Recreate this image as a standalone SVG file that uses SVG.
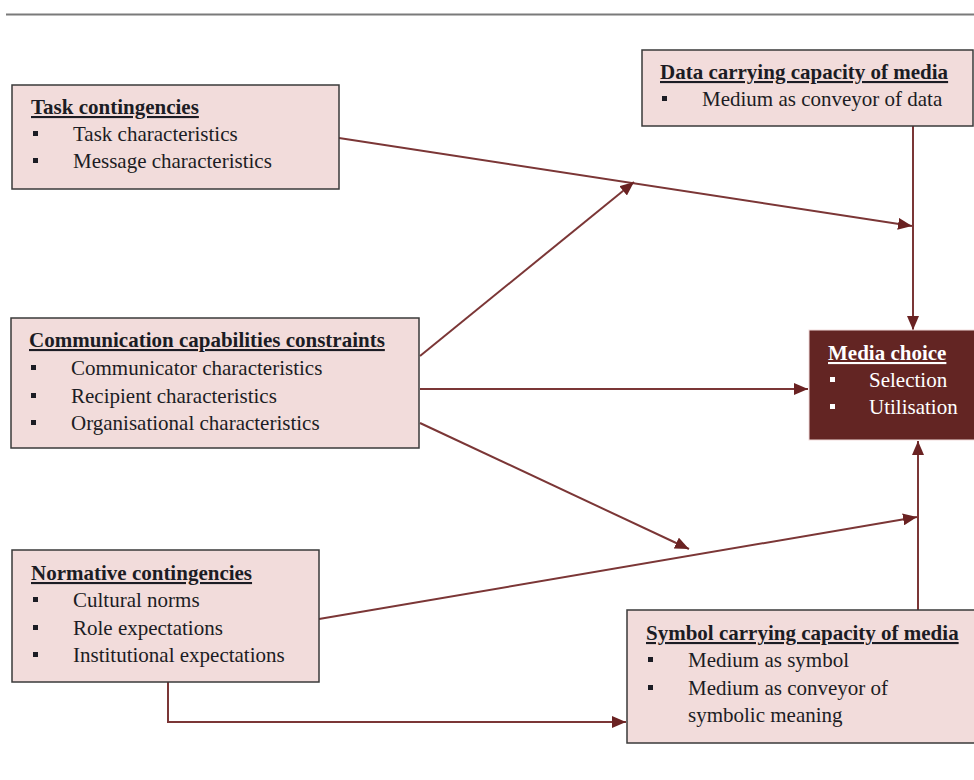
<svg xmlns="http://www.w3.org/2000/svg" width="974" height="780" viewBox="0 0 974 780">
  <defs>
    <marker id="arrow" viewBox="0 0 14 12" refX="14" refY="6" markerWidth="14" markerHeight="12" markerUnits="userSpaceOnUse" orient="auto">
      <path d="M0,0 L14,6 L0,12 Z" fill="#6a2222"/>
    </marker>
    <style>
      .box { fill: #f2dcdb; stroke: #3a3a3a; stroke-width: 1.5; }
      .dark { fill: #632523; stroke: #f2dcdb; stroke-width: 1; }
      .t { font-family: "Liberation Serif", "Times New Roman", serif; font-size: 21px; fill: #1c1c24; }
      .h { font-weight: bold; text-decoration: underline; }
      .w { fill: #ffffff; }
      .b { fill: #1c1c24; }
      .bw { fill: #ffffff; }
      .c { fill: none; stroke: #7b3636; stroke-width: 2; }
    </style>
  </defs>

  <!-- header rule -->
  <line x1="6" y1="14.5" x2="974" y2="14.5" stroke="#7a7a7a" stroke-width="2"/>

  <!-- connectors -->
  <g id="connectors">
    <line class="c" x1="339" y1="138" x2="912" y2="226" marker-end="url(#arrow)"/>
    <line class="c" x1="420" y1="356" x2="634" y2="182" marker-end="url(#arrow)"/>
    <line class="c" x1="913" y1="126" x2="913" y2="330" marker-end="url(#arrow)"/>
    <line class="c" x1="420" y1="389" x2="808" y2="389" marker-end="url(#arrow)"/>
    <line class="c" x1="420" y1="423" x2="689" y2="549" marker-end="url(#arrow)"/>
    <line class="c" x1="319" y1="619" x2="917" y2="517" marker-end="url(#arrow)"/>
    <line class="c" x1="918" y1="610" x2="918" y2="441" marker-end="url(#arrow)"/>
    <polyline class="c" points="168,682 168,722 626,722" marker-end="url(#arrow)"/>
  </g>

  <!-- Task contingencies -->
  <g id="task">
    <rect class="box" x="12" y="85" width="327" height="104"/>
    <text class="t h" x="31" y="114">Task contingencies</text>
    <rect class="b" x="33" y="131" width="5" height="5"/>
    <text class="t" x="73" y="141">Task characteristics</text>
    <rect class="b" x="33" y="158" width="5" height="5"/>
    <text class="t" x="73" y="168">Message characteristics</text>
  </g>

  <!-- Data carrying capacity -->
  <g id="data">
    <rect class="box" x="642" y="50" width="331" height="76"/>
    <text class="t h" x="660" y="79">Data carrying capacity of media</text>
    <rect class="b" x="662" y="96" width="5" height="5"/>
    <text class="t" x="702" y="106">Medium as conveyor of data</text>
  </g>

  <!-- Communication capabilities constraints -->
  <g id="comm">
    <rect class="box" x="11" y="318" width="408" height="130"/>
    <text class="t h" x="29" y="347">Communication capabilities constraints</text>
    <rect class="b" x="31" y="365" width="5" height="5"/>
    <text class="t" x="71" y="375">Communicator characteristics</text>
    <rect class="b" x="31" y="393" width="5" height="5"/>
    <text class="t" x="71" y="403">Recipient characteristics</text>
    <rect class="b" x="31" y="420" width="5" height="5"/>
    <text class="t" x="71" y="430">Organisational characteristics</text>
  </g>

  <!-- Media choice -->
  <g id="media">
    <rect class="dark" x="809" y="330" width="170" height="110"/>
    <text class="t h w" x="828" y="360">Media choice</text>
    <rect class="bw" x="830" y="377" width="5" height="5"/>
    <text class="t w" x="869" y="387">Selection</text>
    <rect class="bw" x="830" y="404" width="5" height="5"/>
    <text class="t w" x="869" y="414">Utilisation</text>
  </g>

  <!-- Normative contingencies -->
  <g id="normative">
    <rect class="box" x="12" y="550" width="307" height="132"/>
    <text class="t h" x="31" y="580">Normative contingencies</text>
    <rect class="b" x="33" y="597" width="5" height="5"/>
    <text class="t" x="73" y="607">Cultural norms</text>
    <rect class="b" x="33" y="625" width="5" height="5"/>
    <text class="t" x="73" y="635">Role expectations</text>
    <rect class="b" x="33" y="652" width="5" height="5"/>
    <text class="t" x="73" y="662">Institutional expectations</text>
  </g>

  <!-- Symbol carrying capacity -->
  <g id="symbol">
    <rect class="box" x="627" y="610" width="352" height="133"/>
    <text class="t h" x="646" y="640">Symbol carrying capacity of media</text>
    <rect class="b" x="648" y="657" width="5" height="5"/>
    <text class="t" x="688" y="667">Medium as symbol</text>
    <rect class="b" x="648" y="685" width="5" height="5"/>
    <text class="t" x="688" y="695">Medium as conveyor of</text>
    <text class="t" x="688" y="722">symbolic meaning</text>
  </g>
</svg>
